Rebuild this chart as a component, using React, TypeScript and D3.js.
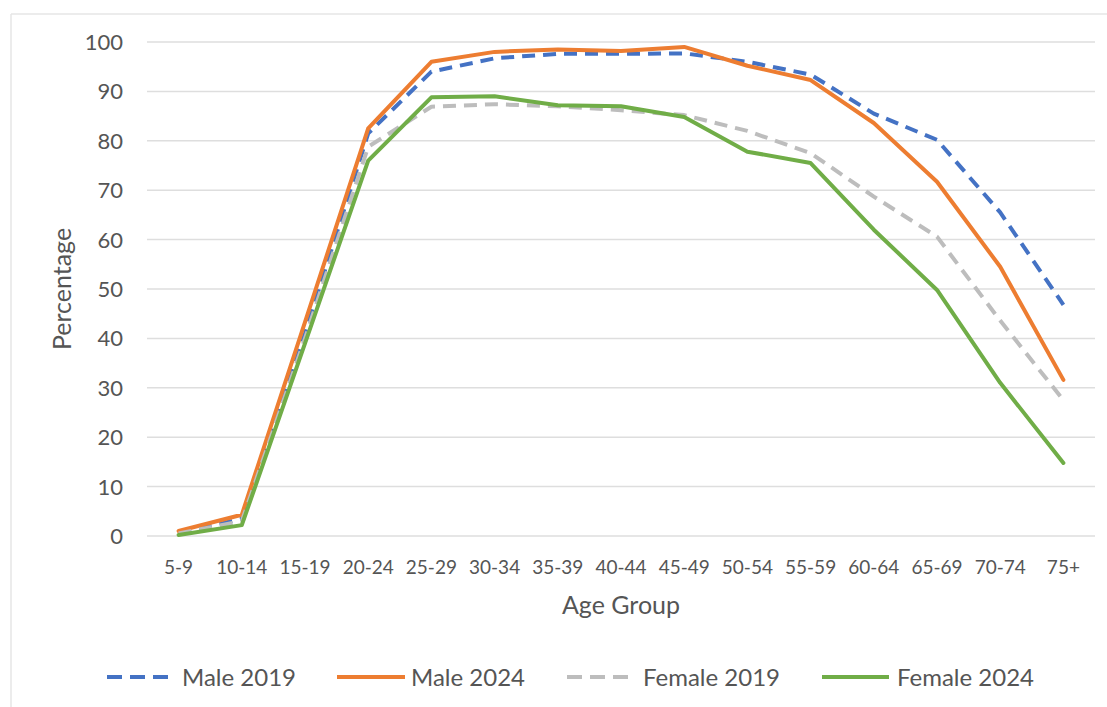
import React from 'react';
import * as d3 from 'd3';

const categories = ['5-9', '10-14', '15-19', '20-24', '25-29', '30-34', '35-39', '40-44', '45-49', '50-54', '55-59', '60-64', '65-69', '70-74', '75+'];
const male2019 = [0.5, 3.5, 41, 81.5, 94, 96.7, 97.6, 97.6, 97.7, 96, 93.4, 85.5, 80.2, 65.5, 46.8];
const male2024 = [1, 4.3, 43.3, 82.5, 96, 98, 98.5, 98.2, 99, 95.2, 92.3, 83.6, 71.7, 54.5, 31.6];
const female2019 = [0.5, 3, 40, 78.8, 86.9, 87.4, 87, 86.2, 85.2, 82, 77.5, 68.7, 60.6, 43.6, 27.5];
const female2024 = [0.2, 2.2, 39, 76, 88.8, 89, 87.2, 87, 84.8, 77.8, 75.5, 62, 49.8, 31, 14.8];
const yTicks = [0, 10, 20, 30, 40, 50, 60, 70, 80, 90, 100];

const seriesDefs = [
  { name: 'Male 2019', values: male2019, color: '#4472C4', dash: '13 8' },
  { name: 'Male 2024', values: male2024, color: '#ED7D31', dash: null },
  { name: 'Female 2019', values: female2019, color: '#BDBDBD', dash: '13 8' },
  { name: 'Female 2024', values: female2024, color: '#70AD47', dash: null },
];

const FONT = 'Lato, "Open Sans", sans-serif';
const TEXT = '#555555';

export default function App() {
  const W = 1107, H = 707;
  const left = 147, right = 1095, top = 42, bottom = 536;
  const x = d3.scaleBand<string>().domain(categories).range([left, right]);
  const y = d3.scaleLinear().domain([0, 100]).range([bottom, top]);
  const cx = (c: string) => (x(c) as number) + x.bandwidth() / 2;

  const line = d3
    .line<number>()
    .x((_, i) => cx(categories[i]))
    .y((v) => y(v));

  const legendItems = [
    { lx1: 107, lx2: 169, tx: 182 },
    { lx1: 337, lx2: 405, tx: 411 },
    { lx1: 567, lx2: 631, tx: 643 },
    { lx1: 822, lx2: 889, tx: 897 },
  ];
  const legendY = 677;

  return (
    <svg width={W} height={H} style={{ position: 'absolute', left: 0, top: 0, background: '#fff' }}>
      <rect x={0} y={0} width={W} height={H} fill="#fff" />
      <line x1={11} y1={14} x2={W} y2={14} stroke="#e6e6e6" strokeWidth={1.5} />
      <line x1={11} y1={14} x2={11} y2={H} stroke="#e6e6e6" strokeWidth={1.5} />
      {yTicks.map((t) => (
        <g key={t}>
          <line x1={left} x2={right} y1={y(t)} y2={y(t)} stroke="#dedede" strokeWidth={1.5} />
          <text x={123} y={y(t)} dy="0.36em" textAnchor="end" fontFamily={FONT} fontSize={22} fill={TEXT}>
            {t}
          </text>
        </g>
      ))}
      {categories.map((c) => (
        <text key={c} x={cx(c)} y={567} dy="0.36em" textAnchor="middle" fontFamily={FONT} fontSize={19} fill={TEXT}>
          {c}
        </text>
      ))}
      <text x={621} y={605} dy="0.36em" textAnchor="middle" fontFamily={FONT} fontSize={25} fill={TEXT}>
        Age Group
      </text>
      <text
        transform={`translate(62,289) rotate(-90)`}
        dy="0.36em"
        textAnchor="middle"
        fontFamily={FONT}
        fontSize={25}
        fill={TEXT}
      >
        Percentage
      </text>
      {seriesDefs.map((s) => (
        <path
          key={s.name}
          d={line(s.values) || ''}
          fill="none"
          stroke={s.color}
          strokeWidth={4}
          strokeDasharray={s.dash || undefined}
          strokeLinejoin="round"
          strokeLinecap={s.dash ? 'butt' : 'round'}
        />
      ))}
      {seriesDefs.map((s, i) => (
        <g key={s.name}>
          <line
            x1={legendItems[i].lx1}
            x2={legendItems[i].lx2}
            y1={legendY}
            y2={legendY}
            stroke={s.color}
            strokeWidth={4}
            strokeDasharray={s.dash ? '15 8' : undefined}
          />
          <text x={legendItems[i].tx} y={legendY} dy="0.36em" fontFamily={FONT} fontSize={24} fill={TEXT}>
            {s.name}
          </text>
        </g>
      ))}
    </svg>
  );
}
